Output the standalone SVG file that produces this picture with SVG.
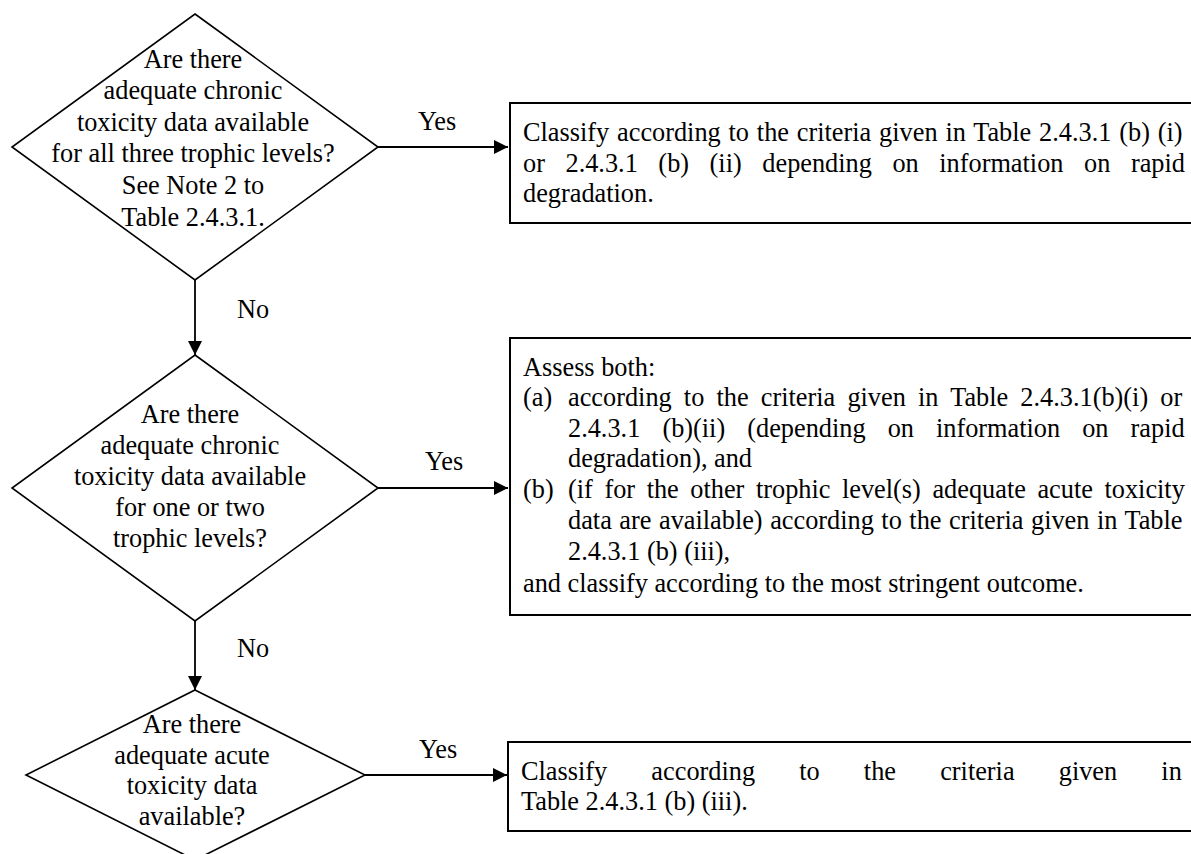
<svg xmlns="http://www.w3.org/2000/svg" width="1191" height="854" viewBox="0 0 1191 854">
<style>
text{font-family:"Liberation Serif","Times New Roman",serif;font-size:26.3px;fill:#000}
.c{text-anchor:middle}
.d{fill:#fff;stroke:#000;stroke-width:1.6}
.b{fill:#fff;stroke:#000;stroke-width:2}
.l{fill:none;stroke:#000;stroke-width:1.8}
</style>
<defs>
<marker id="ah" viewBox="0 0 14 14" refX="14" refY="7" markerWidth="14" markerHeight="14" markerUnits="userSpaceOnUse" orient="auto">
<path d="M0,0 L14,7 L0,14 z" fill="#000"/>
</marker>
</defs>
<rect width="1191" height="854" fill="#fff"/>
<g id="connectors">
<line class="l" x1="378" y1="147" x2="508" y2="147" marker-end="url(#ah)"/>
<line class="l" x1="195" y1="280" x2="195" y2="355" marker-end="url(#ah)"/>
<line class="l" x1="378" y1="488" x2="508" y2="488" marker-end="url(#ah)"/>
<line class="l" x1="195" y1="621" x2="195" y2="690" marker-end="url(#ah)"/>
<line class="l" x1="365" y1="775" x2="507" y2="775" marker-end="url(#ah)"/>
<text x="418" y="130">Yes</text>
<text x="237" y="318">No</text>
<text x="425" y="470">Yes</text>
<text x="237" y="657">No</text>
<text x="419" y="758">Yes</text>
</g>
<g id="q1">
<polygon class="d" points="195,14 378,147 195,280 12,147"/>
<text class="c" x="193" y="67.5">Are there</text>
<text class="c" x="193" y="99">adequate chronic</text>
<text class="c" x="193" y="130.7">toxicity data available</text>
<text class="c" x="193" y="162.3">for all three trophic levels?</text>
<text class="c" x="193" y="194.3">See Note 2 to</text>
<text class="c" x="193" y="226">Table 2.4.3.1.</text>
</g>
<g id="q2">
<polygon class="d" points="195,355 378,488 195,621 12,488"/>
<text class="c" x="190" y="423.3">Are there</text>
<text class="c" x="190" y="454">adequate chronic</text>
<text class="c" x="190" y="485">toxicity data available</text>
<text class="c" x="190" y="515.7">for one or two</text>
<text class="c" x="190" y="546.7">trophic levels?</text>
</g>
<g id="q3">
<polygon class="d" points="195,690 365,775 195,860 26,775"/>
<text class="c" x="192" y="732.7">Are there</text>
<text class="c" x="192" y="764">adequate acute</text>
<text class="c" x="192" y="794.3">toxicity data</text>
<text class="c" x="192" y="825">available?</text>
</g>
<g id="r1">
<rect class="b" x="510" y="103" width="690" height="120"/>
<text x="523" y="140.7" word-spacing="1.27">Classify according to the criteria given in Table 2.4.3.1 (b) (i)</text>
<text x="523" y="171.7" word-spacing="14">or 2.4.3.1 (b) (ii) depending on information on rapid</text>
<text x="523" y="201.7">degradation.</text>
</g>
<g id="r2">
<rect class="b" x="510" y="338" width="690" height="277"/>
<text x="523" y="375.5">Assess both:</text>
<text x="523" y="406">(a)</text>
<text x="568" y="406" word-spacing="5.6">according to the criteria given in Table 2.4.3.1(b)(i) or</text>
<text x="568" y="436.5" word-spacing="15.5">2.4.3.1 (b)(ii) (depending on information on rapid</text>
<text x="568" y="467">degradation), and</text>
<text x="523" y="498.3">(b)</text>
<text x="568" y="498.3" word-spacing="5">(if for the other trophic level(s) adequate acute toxicity</text>
<text x="568" y="528.5" word-spacing="0.96">data are available) according to the criteria given in Table</text>
<text x="568" y="560">2.4.3.1 (b) (iii),</text>
<text x="523" y="591.5">and classify according to the most stringent outcome.</text>
</g>
<g id="r3">
<rect class="b" x="508" y="742" width="692" height="89"/>
<text x="521" y="780" word-spacing="37.6">Classify according to the criteria given in</text>
<text x="521" y="810">Table 2.4.3.1 (b) (iii).</text>
</g>
</svg>
